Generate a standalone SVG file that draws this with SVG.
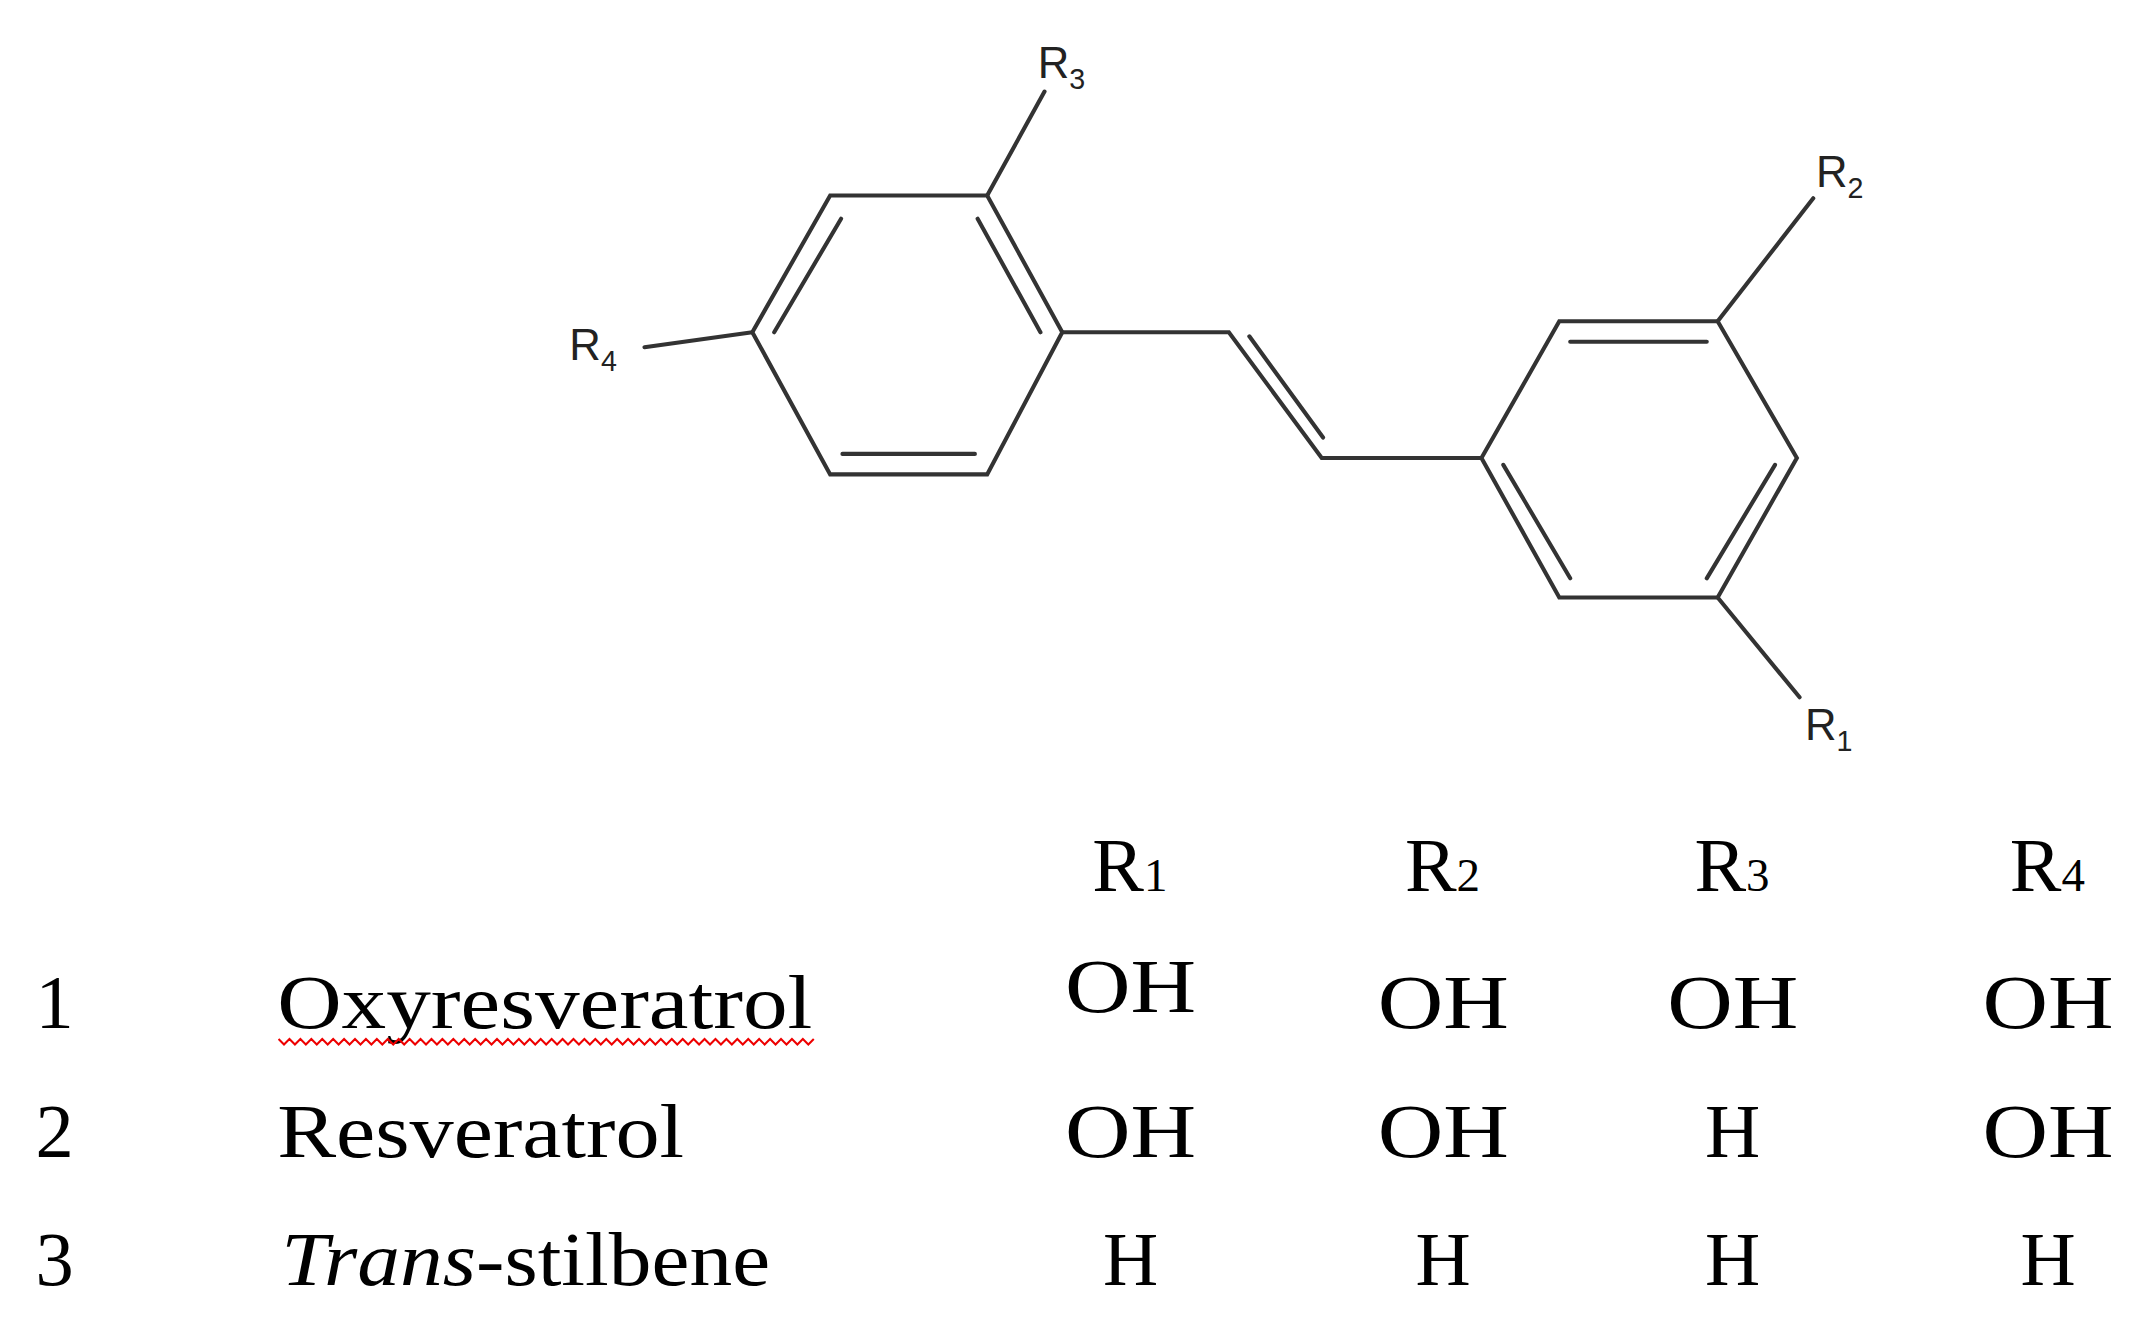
<svg xmlns="http://www.w3.org/2000/svg" width="2141" height="1318" viewBox="0 0 2141 1318">
<style>
.b{stroke:#333;stroke-width:3;fill:none;stroke-linecap:round}
.lb{font-family:"Liberation Sans",Arial,sans-serif;font-size:32px;fill:#222}
.sb{font-size:21px}
.t{font-family:"Liberation Serif","Times New Roman",serif;font-size:56px;fill:#000}
.ts{font-size:34px}
</style>
<rect width="2141" height="1318" fill="#fff"/>
<g transform="scale(1.3654,1.3672)">
<g id="bonds" class="b">
<polygon points="608,143 723,143 778,243 723,347 608,347 551,243"/>
<line x1="616" y1="160" x2="567" y2="243"/>
<line x1="716" y1="160" x2="762" y2="243"/>
<line x1="617" y1="332" x2="714" y2="332"/>
<line x1="723" y1="143" x2="765" y2="67"/>
<line x1="551" y1="243" x2="472" y2="254"/>
<polyline points="778,243 900,243 968,335 1085,335"/>
<line x1="915" y1="246" x2="969" y2="320"/>
<polygon points="1085,335 1142,235 1258,235 1316,335 1258,437 1142,437"/>
<line x1="1150" y1="250" x2="1250" y2="250"/>
<line x1="1300" y1="340" x2="1250" y2="423"/>
<line x1="1101" y1="340" x2="1150" y2="423"/>
<line x1="1258" y1="235" x2="1328" y2="145"/>
<line x1="1258" y1="437" x2="1318" y2="510"/>
</g>
<g id="labels">
<text class="lb" x="760" y="57">R<tspan class="sb" dy="8">3</tspan></text>
<text class="lb" x="1330" y="137">R<tspan class="sb" dy="8">2</tspan></text>
<text class="lb" x="417" y="263">R<tspan class="sb" dy="8">4</tspan></text>
<text class="lb" x="1322" y="541">R<tspan class="sb" dy="8">1</tspan></text>
</g>
<g id="table">
<text class="t" x="800" y="652" textLength="55" lengthAdjust="spacingAndGlyphs">R<tspan class="ts">1</tspan></text>
<text class="t" x="1029" y="652" textLength="55" lengthAdjust="spacingAndGlyphs">R<tspan class="ts">2</tspan></text>
<text class="t" x="1241" y="652" textLength="55" lengthAdjust="spacingAndGlyphs">R<tspan class="ts">3</tspan></text>
<text class="t" x="1472" y="652" textLength="55" lengthAdjust="spacingAndGlyphs">R<tspan class="ts">4</tspan></text>
<text class="t" x="26" y="752">1</text>
<text class="t" x="203" y="752" textLength="392" lengthAdjust="spacingAndGlyphs">Oxyresveratrol</text>
<path d="M204,760 l4,4 4,-4 4,4 4,-4 4,4 4,-4 4,4 4,-4 4,4 4,-4 4,4 4,-4 4,4 4,-4 4,4 4,-4 4,4 4,-4 4,4 4,-4 4,4 4,-4 4,4 4,-4 4,4 4,-4 4,4 4,-4 4,4 4,-4 4,4 4,-4 4,4 4,-4 4,4 4,-4 4,4 4,-4 4,4 4,-4 4,4 4,-4 4,4 4,-4 4,4 4,-4 4,4 4,-4 4,4 4,-4 4,4 4,-4 4,4 4,-4 4,4 4,-4 4,4 4,-4 4,4 4,-4 4,4 4,-4 4,4 4,-4 4,4 4,-4 4,4 4,-4 4,4 4,-4 4,4 4,-4 4,4 4,-4 4,4 4,-4 4,4 4,-4 4,4 4,-4 4,4 4,-4 4,4 4,-4 4,4 4,-4 4,4 4,-4 4,4 4,-4 4,4 4,-4 4,4 4,-4 4,4 4,-4 4,4 4,-4" stroke="#e00" stroke-width="1.5" fill="none"/>
<text class="t" x="780" y="740" textLength="96" lengthAdjust="spacingAndGlyphs">OH</text>
<text class="t" x="1009" y="752" textLength="96" lengthAdjust="spacingAndGlyphs">OH</text>
<text class="t" x="1221" y="752" textLength="96" lengthAdjust="spacingAndGlyphs">OH</text>
<text class="t" x="1452" y="752" textLength="96" lengthAdjust="spacingAndGlyphs">OH</text>
<text class="t" x="26" y="846">2</text>
<text class="t" x="203" y="846" textLength="298" lengthAdjust="spacingAndGlyphs">Resveratrol</text>
<text class="t" x="780" y="846" textLength="96" lengthAdjust="spacingAndGlyphs">OH</text>
<text class="t" x="1009" y="846" textLength="96" lengthAdjust="spacingAndGlyphs">OH</text>
<text class="t" x="1269" y="846" text-anchor="middle">H</text>
<text class="t" x="1452" y="846" textLength="96" lengthAdjust="spacingAndGlyphs">OH</text>
<text class="t" x="26" y="940">3</text>
<text class="t" x="206" y="940" textLength="358" lengthAdjust="spacingAndGlyphs"><tspan font-style="italic">Trans</tspan>-stilbene</text>
<text class="t" x="828" y="940" text-anchor="middle">H</text>
<text class="t" x="1057" y="940" text-anchor="middle">H</text>
<text class="t" x="1269" y="940" text-anchor="middle">H</text>
<text class="t" x="1500" y="940" text-anchor="middle">H</text>
</g>
</g>
</svg>
